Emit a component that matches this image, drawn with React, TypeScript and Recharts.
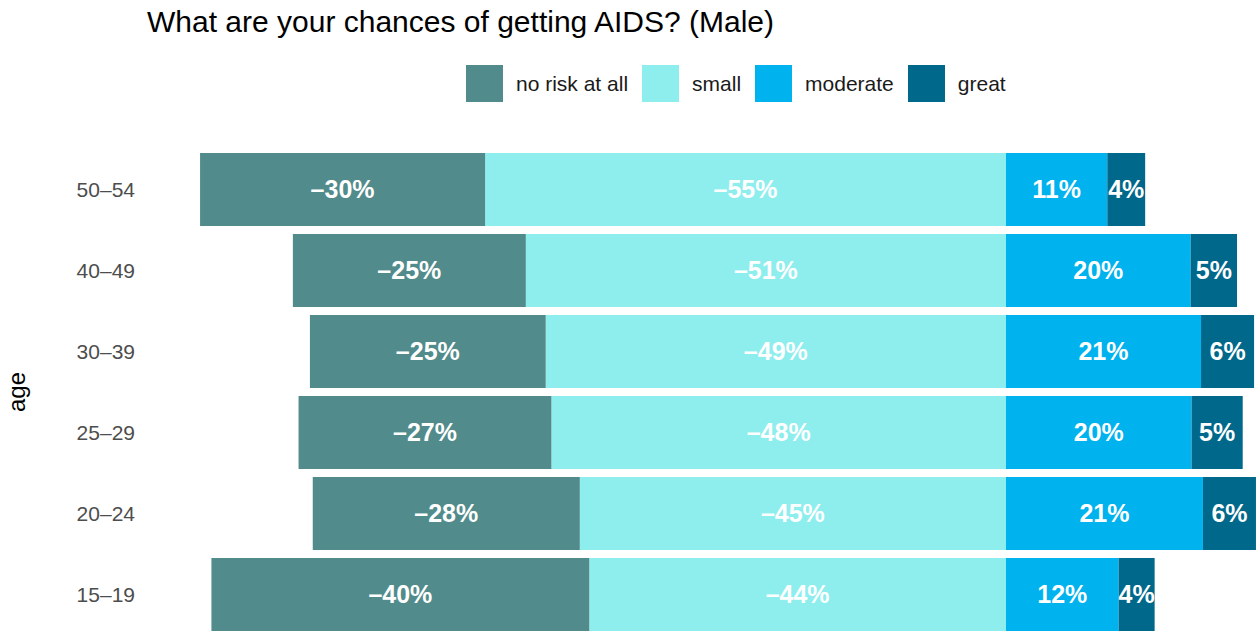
import { BarChart, Bar, XAxis, YAxis, LabelList } from 'recharts';

// age groups, top to bottom as drawn
const ageGroups = ['50–54', '40–49', '30–39', '25–29', '20–24', '15–19'];

// shares in percent; the two "low risk" answers are drawn to the left of zero
const noRisk = [-30.1, -24.6, -24.9, -26.7, -28.2, -39.9];
const small = [-55.0, -50.7, -48.6, -48.0, -45.0, -44.0];
const moderate = [10.7, 19.5, 20.6, 19.6, 20.8, 11.9];
const great = [4.0, 4.9, 5.6, 5.4, 5.6, 3.8];

const legendItems = [
    { key: 'noRisk', name: 'no risk at all', color: '#528B8B' },
    { key: 'small', name: 'small', color: '#8EEEEE' },
    { key: 'moderate', name: 'moderate', color: '#00B2EE' },
    { key: 'great', name: 'great', color: '#00688B' },
];

const COLORS: Record<string, string> = {
    noRisk: '#528B8B',
    small: '#8EEEEE',
    moderate: '#00B2EE',
    great: '#00688B',
};

const data = ageGroups.map((age, i) => ({
    age,
    noRisk: noRisk[i],
    small: small[i],
    moderate: moderate[i],
    great: great[i],
}));

// negative shares keep their sign in the label, with an en dash
const formatPct = (v: any) => {
    const n = Number(v);
    return (n < 0 ? '–' : '') + Math.round(Math.abs(n)) + '%';
};

const FONT = "'Liberation Sans', Arial, Helvetica, sans-serif";

// stacking order matters with stackOffset="sign": first series sits next to zero
const seriesOrder = ['small', 'noRisk', 'moderate', 'great'];

export default function App() {
    return (
        <div
            style={{
                position: 'absolute',
                left: 0,
                top: 0,
                width: 1257,
                height: 631,
                overflow: 'hidden',
                background: '#FFFFFF',
                fontFamily: FONT,
            }}
        >
            {/* Title */}
            <div
                style={{
                    position: 'absolute',
                    left: 147,
                    top: 7,
                    fontSize: 30,
                    lineHeight: '30px',
                    color: '#000000',
                    whiteSpace: 'nowrap',
                }}
            >
                What are your chances of getting AIDS? (Male)
            </div>

            {/* Legend */}
            <div
                style={{
                    position: 'absolute',
                    left: 466,
                    top: 65,
                    height: 37,
                    display: 'flex',
                    alignItems: 'center',
                    whiteSpace: 'nowrap',
                }}
            >
                {legendItems.map((item) => (
                    <div key={item.key} style={{ display: 'flex', alignItems: 'center' }}>
                        <span style={{ display: 'inline-block', width: 37, height: 37, background: item.color, marginRight: 13 }} />
                        <span style={{ fontSize: 21, lineHeight: '37px', color: '#1A1A1A', marginRight: 14 }}>{item.name}</span>
                    </div>
                ))}
            </div>

            <div style={{ position: 'absolute', left: 0, top: 0 }}>
                <BarChart
                    width={1300}
                    height={640}
                    data={data}
                    layout="vertical"
                    stackOffset="sign"
                    barCategoryGap="5%"
                    margin={{ top: 149, right: 38.35, bottom: 5, left: 0 }}
                >
                    <XAxis type="number" hide domain={[-88, 27]} allowDataOverflow />
                    <YAxis
                        type="category"
                        dataKey="age"
                        width={172.6}
                        axisLine={false}
                        tickLine={false}
                        tickSize={0}
                        tickMargin={37.6}
                        tick={{ fontSize: 21, fill: '#4D4D4D' }}
                        label={{
                            content: () => (
                                <text
                                    x={25}
                                    y={392}
                                    transform="rotate(-90 25 392)"
                                    textAnchor="middle"
                                    fontSize={24}
                                    fill="#000000"
                                >
                                    age
                                </text>
                            ),
                        }}
                    />
                    {seriesOrder.map((key) => (
                        <Bar key={key} dataKey={key} stackId="a" fill={COLORS[key]} isAnimationActive={false}>
                            <LabelList
                                dataKey={key}
                                position="center"
                                formatter={formatPct}
                                fill="#FFFFFF"
                                fontSize={25}
                                fontWeight="bold"
                            />
                        </Bar>
                    ))}
                </BarChart>
            </div>
        </div>
    );
}
